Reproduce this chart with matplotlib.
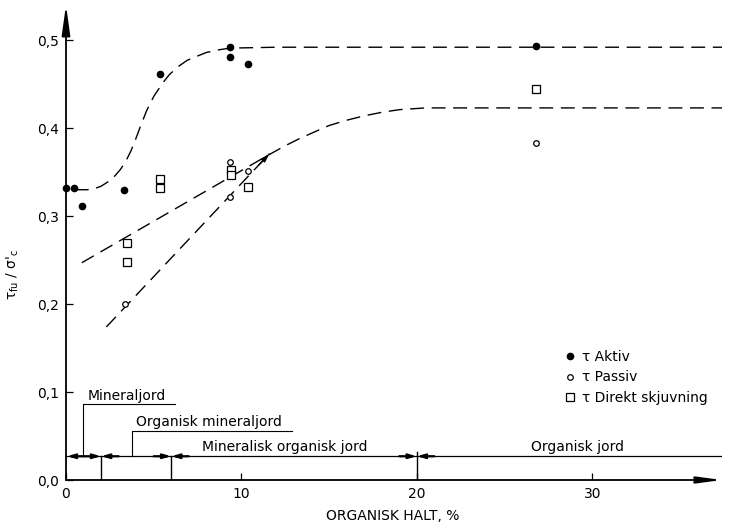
import matplotlib
matplotlib.use("Agg")
import matplotlib.pyplot as plt
from matplotlib.lines import Line2D

# ---- data ----
aktiv_x = [0.0, 0.46, 0.9, 3.3, 5.36, 9.35, 9.35, 10.4, 26.8]
aktiv_y = [0.332, 0.332, 0.311, 0.330, 0.461, 0.492, 0.481, 0.473, 0.493]

passiv_x = [3.36, 9.35, 9.35, 10.4, 26.8]
passiv_y = [0.200, 0.361, 0.322, 0.351, 0.383]

direkt_x = [3.45, 3.45, 5.36, 5.36, 9.4, 9.4, 10.4, 26.8]
direkt_y = [0.270, 0.248, 0.342, 0.332, 0.352, 0.347, 0.333, 0.444]

# dashed trend curves
curve_aktiv_x = [0.5, 1.2, 1.6, 2.0, 2.4, 2.8, 3.1, 3.4, 3.7, 4.0, 4.3, 4.6, 5.0, 5.5, 5.9, 6.4,
                 6.9, 7.5, 8.0, 8.7, 9.35, 12.0, 37.4]
curve_aktiv_y = [0.330, 0.330, 0.331, 0.334, 0.339, 0.346, 0.353, 0.362, 0.374, 0.389, 0.405,
                 0.420, 0.436, 0.451, 0.461, 0.470, 0.477, 0.482, 0.486, 0.489, 0.491, 0.492, 0.492]

curve_direkt_x = [0.9, 11.5, 12.5, 13.3, 14.2, 15.0, 16.0, 17.0, 18.0, 19.0, 20.5, 37.4]
curve_direkt_y = [0.247, 0.369, 0.380, 0.388, 0.396, 0.403, 0.409, 0.414, 0.418, 0.421, 0.423, 0.423]

curve_passiv_x = [2.3, 11.6]
curve_passiv_y = [0.174, 0.371]

yticks = [0.0, 0.1, 0.2, 0.3, 0.4, 0.5]
ytick_labels = ["0,0", "0,1", "0,2", "0,3", "0,4", "0,5"]
xticks = [0, 10, 20, 30]
xtick_labels = ["0", "10", "20", "30"]

class_bounds = [2, 6, 20]
class_line_y = 0.027

plt.rcParams['font.family'] = ['DejaVu Sans']
plt.rcParams['mathtext.default'] = 'regular'

fig = plt.figure(figsize=(7.30, 5.29), dpi=100)
ax = fig.add_axes([66/730, 49/529, 656/730, 475/529])
ax.set_xlim(0, 37.4)
ax.set_ylim(0, 0.54)

for s in ax.spines.values():
    s.set_visible(False)

# axes with arrows
ax.annotate("", xy=(0, 1.0), xytext=(0, 0), xycoords='axes fraction',
            arrowprops=dict(arrowstyle='-|>,head_length=1.8,head_width=0.25', lw=1.3, color='black',
                            shrinkA=0, shrinkB=0))
ax.annotate("", xy=(1.0, 0), xytext=(0, 0), xycoords='axes fraction',
            arrowprops=dict(arrowstyle='-|>,head_length=1.5,head_width=0.2', lw=1.3, color='black',
                            shrinkA=0, shrinkB=0))

ax.set_yticks(yticks)
ax.set_yticklabels(ytick_labels)
ax.set_xticks(xticks)
ax.set_xticklabels(xtick_labels)
ax.tick_params(direction='in', length=5, width=0.9, labelsize=10, pad=5)

ax.set_xlabel("ORGANISK HALT, %", fontsize=10)
ax.xaxis.set_label_coords(0.498, -0.062)
ax.set_ylabel(r"τ$_{fu}$ / σ$'_{c}$", fontsize=10)
ax.yaxis.set_label_coords(-0.068, 0.434)

dash = (0, (10, 5.5))
ax.plot(curve_aktiv_x, curve_aktiv_y, color='black', lw=1.0, linestyle=dash)
ax.plot(curve_direkt_x, curve_direkt_y, color='black', lw=1.0, linestyle=dash)
ax.plot(curve_passiv_x, curve_passiv_y, color='black', lw=1.0, linestyle=dash)
ax.annotate("", xy=(curve_passiv_x[1], curve_passiv_y[1]),
            xytext=(curve_passiv_x[1] - 0.6, curve_passiv_y[1] - 0.6 * 0.0212),
            arrowprops=dict(arrowstyle='-|>,head_length=0.5,head_width=0.15', lw=1.0, color='black',
                            shrinkA=0, shrinkB=0))

ax.plot(aktiv_x, aktiv_y, 'o', color='black', markersize=4.5, clip_on=False, zorder=5)
ax.plot(passiv_x, passiv_y, 'o', mfc='white', mec='black', mew=0.9, markersize=4.0, zorder=5)
ax.plot(direkt_x, direkt_y, 's', mfc='white', mec='black', mew=0.9, markersize=5.2, zorder=5)

# legend
handles = [
    Line2D([], [], marker='o', ls='none', color='black', markersize=4.5),
    Line2D([], [], marker='o', ls='none', mfc='white', mec='black', mew=0.9, markersize=4.0),
    Line2D([], [], marker='s', ls='none', mfc='white', mec='black', mew=0.9, markersize=5.2),
]
labels = ["τ Aktiv", "τ Passiv", "τ Direkt skjuvning"]
ax.legend(handles, labels, loc='upper left', bbox_to_anchor=(0.752, 0.285), frameon=False,
          fontsize=10, handlelength=0.8, handletextpad=0.4, labelspacing=0.45, borderaxespad=0)

# soil class annotation
ax.plot([0, 37.4], [class_line_y, class_line_y], color='black', lw=0.9)
for b in class_bounds:
    top = class_line_y + (0.005 if b == 20 else 0.0)
    ax.plot([b, b], [0, top], color='black', lw=1.0)
    for side in (-1, 1):
        ax.annotate("", xy=(b, class_line_y), xytext=(b + side * 1.0, class_line_y),
                    arrowprops=dict(arrowstyle='-|>,head_length=0.45,head_width=0.13', lw=1.6,
                                    color='black', shrinkA=0, shrinkB=0))
ax.annotate("", xy=(0.05, class_line_y), xytext=(1.0, class_line_y),
            arrowprops=dict(arrowstyle='-|>,head_length=0.45,head_width=0.13', lw=1.6,
                            color='black', shrinkA=0, shrinkB=0))

# leaders + underlines
ax.plot([0.97, 0.97, 6.2], [class_line_y, 0.086, 0.086], color='black', lw=0.8)
ax.plot([3.74, 3.74, 12.9], [class_line_y, 0.056, 0.056], color='black', lw=0.8)

ax.text(1.25, 0.088, "Mineraljord", fontsize=10, ha='left', va='bottom')
ax.text(4.0, 0.058, "Organisk mineraljord", fontsize=10, ha='left', va='bottom')
ax.text(7.76, 0.029, "Mineralisk organisk jord", fontsize=10, ha='left', va='bottom')
ax.text(26.5, 0.029, "Organisk jord", fontsize=10, ha='left', va='bottom')

fig.savefig("out.png", dpi=100)
